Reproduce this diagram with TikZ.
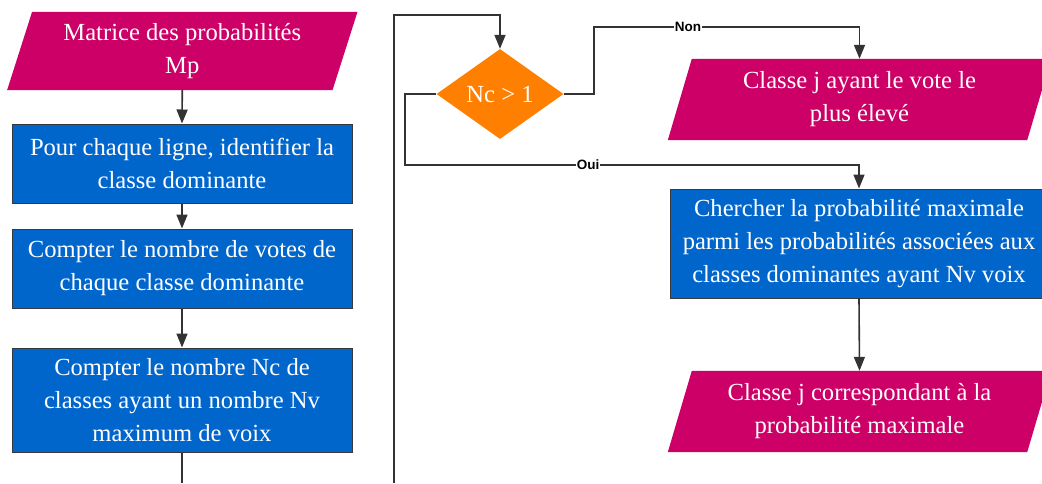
\documentclass[tikz,border=0pt]{standalone}
\usepackage{fontspec}
\setmainfont{Liberation Serif}
\newfontfamily\lblfont{Liberation Sans}
\usetikzlibrary{arrows.meta,shapes.geometric,backgrounds}
\definecolor{mag}{HTML}{CC0066}
\definecolor{blu}{HTML}{0066CC}
\definecolor{org}{HTML}{FF8000}
\definecolor{ln}{HTML}{333333}
\definecolor{bd}{HTML}{36393D}
\tikzset{
  txt/.style={text=white, align=center, inner sep=0pt, font=\fontsize{24.6}{33}\selectfont},
  procbox/.style={txt, rectangle, fill=blu, draw=bd, line width=1pt, minimum width=340pt},
  iobox/.style={txt, rectangle, minimum height=80pt},
  decbox/.style={txt, diamond, fill=org, minimum width=127pt, minimum height=90pt, aspect=1.41},
  conn/.style={draw=ln, line width=1.6pt, -{Triangle[width=11pt,length=14pt]}},
  plain/.style={draw=ln, line width=1.6pt},
  lbl/.style={fill=white, inner sep=1pt, text=black, font=\lblfont\bfseries\fontsize{13.5}{14}\selectfont},
}
\begin{document}
\begin{tikzpicture}[x=1pt,y=-1pt]
\useasboundingbox (0,0) rectangle (1042,483);
% left column
\node[iobox, minimum width=325pt, minimum height=78pt] (mat) at (182.3,51) {Matrice des probabilités\\Mp};
\node[procbox, minimum height=79pt] (b2) at (182,163.5) {Pour chaque ligne, identifier la\\classe dominante};
\node[procbox, minimum height=79pt] (b3) at (182,268.5) {Compter le nombre de votes de\\chaque classe dominante};
\node[procbox, minimum height=104pt] (b4) at (182,400) {Compter le nombre Nc de\\classes ayant un nombre Nv\\maximum de voix};
% right part
\node[decbox] (dia) at (500,94) {Nc > 1};
\node[iobox, minimum width=359pt, minimum height=81pt] (p2) at (859.5,99.5) {Classe j ayant le vote le\\plus élevé};
\node[procbox, minimum width=378pt, minimum height=109pt] (b5) at (859,243.5) {Chercher la probabilité maximale\\parmi les probabilités associées aux\\classes dominantes ayant Nv voix};
\node[iobox, minimum width=359pt, minimum height=81pt] (p3) at (859.5,411.5) {Classe j correspondant à la\\probabilité maximale};
\begin{scope}[on background layer]
\foreach \n/\s in {mat/12.5, p2/12, p3/12}{
  \fill[mag] ([xshift=\s pt]\n.north west) -- ([xshift=\s pt]\n.north east) -- ([xshift=-\s pt]\n.south east) -- ([xshift=-\s pt]\n.south west) -- cycle;
}
\end{scope}
\coordinate (endL) at (182,483);
\coordinate (startR) at (394,483);
% connectors
\draw[conn] (mat.south) -- (b2.north);
\draw[conn] (b2.south) -- (b3.north);
\draw[conn] (b3.south) -- (b4.north);
\draw[plain] (b4.south) -- (endL);
\draw[conn] (startR) -- (394,15) -| (dia.north);
\draw[conn] (dia.east) -| (594,27) -- (688,27) node[lbl] {Non} -| (p2.north);
\draw[conn] (dia.west) -| (405,165) -- (588,165) node[lbl] {Oui} -| (b5.north);
\draw[conn] (b5.south) -- (p3.north);
\end{tikzpicture}
\end{document}
